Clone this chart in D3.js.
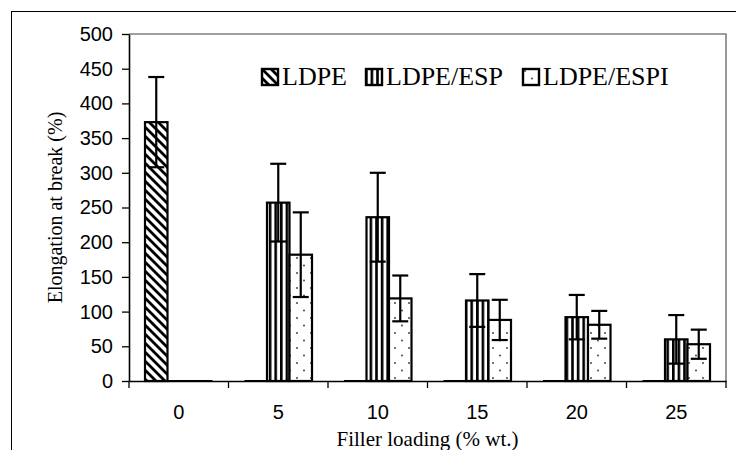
<!DOCTYPE html>
<html>
<head>
<meta charset="utf-8">
<script src="https://cdn.jsdelivr.net/npm/d3@7"></script>
<style>
  body { margin: 0; background: #fff; }
  svg { display: block; }
</style>
</head>
<body>
<svg width="736" height="450"></svg>
<script>
const categories = ["0", "5", "10", "15", "20", "25"];
const seriesNames = ["LDPE", "LDPE/ESP", "LDPE/ESPI"];
const ldpe = [373, 0, 0, 0, 0, 0];
const ldpeErr = [65, 0, 0, 0, 0, 0];
const esp = [0, 257, 236, 116, 92, 60];
const espErr = [0, 56, 64, 38, 32, 35];
const espi = [0, 182, 119, 88, 81, 53];
const espiErr = [0, 61, 33, 29, 20, 21];
const yTicks = [0, 50, 100, 150, 200, 250, 300, 350, 400, 450, 500];

const svg = d3.select("svg");
const width = +svg.attr("width");
const height = +svg.attr("height");

const sans = "'Liberation Sans', Arial, sans-serif";
const serif = "'Liberation Serif', 'Times New Roman', serif";

const plotLeft = 129, plotRight = 726, plotTop = 34, plotBottom = 381;

// patterns
const defs = svg.append("defs");

const hatch = defs.append("pattern")
  .attr("id", "hatch")
  .attr("patternUnits", "userSpaceOnUse")
  .attr("width", 9)
  .attr("height", 9);
hatch.append("rect").attr("width", 9).attr("height", 9).attr("fill", "#fff");
hatch.append("path")
  .attr("d", "M-3,6 L3,12 M0,0 L9,9 M6,-3 L12,3")
  .attr("stroke", "#000")
  .attr("stroke-width", 2.8);

const stripes = defs.append("pattern")
  .attr("id", "stripes")
  .attr("patternUnits", "userSpaceOnUse")
  .attr("width", 5.6)
  .attr("height", 10);
stripes.append("rect").attr("width", 5.6).attr("height", 10).attr("fill", "#fff");
stripes.append("rect").attr("x", 0).attr("width", 2.6).attr("height", 10).attr("fill", "#000");

const dots = defs.append("pattern")
  .attr("id", "dots")
  .attr("patternUnits", "userSpaceOnUse")
  .attr("width", 14)
  .attr("height", 15);
dots.append("rect").attr("width", 14).attr("height", 15).attr("fill", "#fff");
dots.append("circle").attr("cx", 3).attr("cy", 3).attr("r", 0.9).attr("fill", "#333");
dots.append("circle").attr("cx", 10).attr("cy", 10.5).attr("r", 0.9).attr("fill", "#333");

const fills = ["url(#hatch)", "url(#stripes)", "url(#dots)"];

// outer frame
svg.append("rect")
  .attr("x", 11.5)
  .attr("y", 11.5)
  .attr("width", width)
  .attr("height", height)
  .attr("fill", "none")
  .attr("stroke", "#000")
  .attr("stroke-width", 1);

// scales
const x0 = d3.scaleBand().domain(categories).range([plotLeft, plotRight]);
const x1 = d3.scaleBand().domain(seriesNames).range([16, 16 + 67.5]);
const y = d3.scaleLinear().domain([0, 500]).range([plotBottom, plotTop]);

// gray plot border (top and right)
svg.append("path")
  .attr("d", `M${plotLeft},${plotTop}H${plotRight}V${plotBottom}`)
  .attr("fill", "none")
  .attr("stroke", "#808080")
  .attr("stroke-width", 1.6);

const series = [
  { name: "LDPE", values: ldpe, err: ldpeErr },
  { name: "LDPE/ESP", values: esp, err: espErr },
  { name: "LDPE/ESPI", values: espi, err: espiErr }
];

const barsG = svg.append("g");

series.forEach((s, si) => {
  categories.forEach((c, ci) => {
    const v = s.values[ci];
    const bx = x0(c) + x1(s.name);
    const bw = x1.bandwidth();
    if (v === 0) {
      barsG.append("line")
        .attr("x1", bx).attr("x2", bx + bw)
        .attr("y1", y(0)).attr("y2", y(0))
        .attr("stroke", "#000")
        .attr("stroke-width", 2);
      return;
    }
    barsG.append("rect")
      .attr("x", bx)
      .attr("y", y(v))
      .attr("width", bw)
      .attr("height", y(0) - y(v))
      .attr("fill", fills[si])
      .attr("stroke", "#000")
      .attr("stroke-width", 2.2);

    const e = s.err[ci];
    const cx = bx + bw / 2;
    const eg = barsG.append("g")
      .attr("stroke", "#000")
      .attr("stroke-width", 2.2);
    eg.append("line")
      .attr("x1", cx).attr("x2", cx)
      .attr("y1", y(v + e)).attr("y2", y(v - e));
    [v + e, v - e].forEach(ev => {
      eg.append("line")
        .attr("x1", cx - 8).attr("x2", cx + 8)
        .attr("y1", y(ev)).attr("y2", y(ev));
    });
  });
});

// y axis
const yAxis = svg.append("g")
  .attr("transform", `translate(${plotLeft},0)`)
  .call(d3.axisLeft(y).tickValues(yTicks).tickSize(7).tickSizeOuter(0).tickPadding(9));
yAxis.select(".domain").attr("stroke", "#000").attr("stroke-width", 1.6);
yAxis.selectAll(".tick line").attr("stroke", "#000").attr("stroke-width", 1.3);
yAxis.selectAll(".tick text")
  .attr("fill", "#000")
  .style("font-family", sans)
  .style("font-size", "20px");

// x axis
const xAxis = svg.append("g")
  .attr("transform", `translate(0,${plotBottom})`)
  .call(d3.axisBottom(x0).tickSize(0).tickSizeOuter(0).tickPadding(24));
xAxis.select(".domain").attr("stroke", "#000").attr("stroke-width", 1.6);
xAxis.selectAll(".tick text")
  .attr("fill", "#000")
  .style("font-family", sans)
  .style("font-size", "20px");

const bounds = categories.map(c => x0(c)).concat([x0.range()[1]]);
xAxis.selectAll(".bound")
  .data(bounds)
  .join("line")
  .attr("class", "bound")
  .attr("x1", d => d).attr("x2", d => d)
  .attr("y1", 0).attr("y2", 7)
  .attr("stroke", "#000")
  .attr("stroke-width", 1.3);

// axis titles
svg.append("text")
  .attr("transform", `translate(62,${(plotTop + plotBottom) / 2}) rotate(-90)`)
  .attr("text-anchor", "middle")
  .style("font-family", serif)
  .style("font-size", "20px")
  .text("Elongation at break (%)");

svg.append("text")
  .attr("x", (plotLeft + plotRight) / 2)
  .attr("y", 446)
  .attr("text-anchor", "middle")
  .style("font-family", serif)
  .style("font-size", "21px")
  .text("Filler loading (% wt.)");

// legend
const legendX = [261, 365, 522];
const legend = svg.append("g");
seriesNames.forEach((n, i) => {
  const lg = legend.append("g").attr("transform", `translate(${legendX[i]},68)`);
  lg.append("rect")
    .attr("x", 1).attr("y", 1)
    .attr("width", 16).attr("height", 16)
    .attr("fill", fills[i])
    .attr("stroke", "#000")
    .attr("stroke-width", 2.4);
  lg.append("text")
    .attr("x", 21)
    .attr("y", 17)
    .style("font-family", serif)
    .style("font-size", "26px")
    .text(n);
});
</script>
</body>
</html>
